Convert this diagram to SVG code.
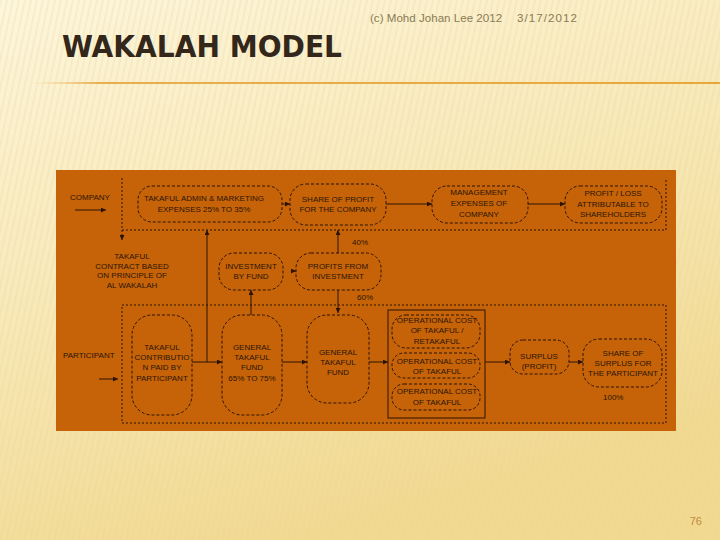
<svg xmlns="http://www.w3.org/2000/svg" width="720" height="540" viewBox="0 0 720 540">
  <defs>
    <linearGradient id="bg" x1="0" y1="0" x2="0.4" y2="1">
      <stop offset="0" stop-color="#FDF6DC"/>
      <stop offset="0.5" stop-color="#F8E9B8"/>
      <stop offset="1" stop-color="#F1D990"/>
    </linearGradient>
    <linearGradient id="rule" x1="0" y1="0" x2="1" y2="0">
      <stop offset="0" stop-color="#F2C878" stop-opacity="0"/>
      <stop offset="0.1" stop-color="#E8AE50"/>
      <stop offset="1" stop-color="#E8A838"/>
    </linearGradient>
    <pattern id="stripes" width="6" height="20" patternUnits="userSpaceOnUse" patternTransform="skewX(-12)">
      <rect x="0" y="0" width="2" height="20" fill="#E8D49A" fill-opacity="0.25"/>
    </pattern>
    <marker id="ah" viewBox="0 0 10 10" refX="10" refY="5" markerWidth="5" markerHeight="5" orient="auto-start-reverse" markerUnits="userSpaceOnUse">
      <path d="M0,0 L10,5 L0,10 Z" fill="#2B1405"/>
    </marker>
    <style>
      .node{fill:none;stroke:#2B1405;stroke-width:1;stroke-dasharray:3 2}
      .box{fill:none;stroke:#2B1405;stroke-width:1}
      .c{fill:none;stroke:#2B1405;stroke-width:1}
      .d{fill:none;stroke:#2B1405;stroke-width:1;stroke-dasharray:2 2}
      .t{font-family:"Liberation Sans", Arial, sans-serif;font-size:8px;fill:#2B1405;text-anchor:middle}
      .tl{font-family:"Liberation Sans", Arial, sans-serif;font-size:8px;fill:#2B1405}
    </style>
  </defs>

  <rect width="720" height="540" fill="url(#bg)"/>
  <rect width="720" height="540" fill="url(#stripes)"/>

  <text x="370" y="22" font-family="'Liberation Sans', Arial, sans-serif" font-size="11.6" fill="#8A7A55">(c) Mohd Johan Lee 2012</text>
  <text x="517" y="22" font-family="'Liberation Sans', Arial, sans-serif" font-size="11.6" fill="#8A7A55" textLength="60">3/17/2012</text>
  <text x="62" y="57" font-family="'DejaVu Sans Condensed', 'DejaVu Sans', sans-serif" font-size="31" font-weight="600" fill="#33261A" textLength="280" lengthAdjust="spacingAndGlyphs">WAKALAH MODEL</text>
  <rect x="30" y="82" width="690" height="2" fill="url(#rule)"/>
  <text x="702" y="525" font-family="'Liberation Sans', Arial, sans-serif" font-size="11" fill="#C08A40" text-anchor="end">76</text>

  <rect x="56" y="170" width="620" height="261" fill="#C66308"/>

  <g id="connectors">
    <path class="d" d="M122,178 V236"/>
    <path class="c" d="M122,236 V240" marker-end="url(#ah)"/>
    <path class="d" d="M122,230 H666 V178"/>
    <path class="d" d="M122,305 H666 V423 H122 Z"/>
    <path class="c" d="M75,210 H106" marker-end="url(#ah)"/>
    <path class="c" d="M99,379 H118" marker-end="url(#ah)"/>
    <path class="c" d="M282,204 H290" marker-end="url(#ah)"/>
    <path class="c" d="M386,204 H432" marker-end="url(#ah)"/>
    <path class="c" d="M528,204 H565" marker-end="url(#ah)"/>
    <path class="c" d="M207,362 V230" marker-end="url(#ah)"/>
    <path class="c" d="M251,315 V290" marker-end="url(#ah)"/>
    <path class="c" d="M292,271 H296" marker-end="url(#ah)"/>
    <path class="c" d="M338,253 V230" marker-end="url(#ah)"/>
    <path class="c" d="M338,290 V313" marker-end="url(#ah)"/>
    <path class="c" d="M192,362 H222" marker-end="url(#ah)"/>
    <path class="c" d="M282,362 H307" marker-end="url(#ah)"/>
    <path class="c" d="M369,362 H388" marker-end="url(#ah)"/>
    <path class="c" d="M485,362 H510" marker-end="url(#ah)"/>
    <path class="c" d="M569,362 H583" marker-end="url(#ah)"/>
  </g>

  <g id="company"><text class="tl" x="70" y="200">COMPANY</text></g>
  <g id="participant"><text class="tl" x="63" y="358">PARTICIPANT</text></g>

  <g id="admin">
    <rect class="node" x="138" y="186" width="144" height="36" rx="14"/>
    <text class="t" x="204" y="201">TAKAFUL ADMIN &amp; MARKETING</text>
    <text class="t" x="204" y="212">EXPENSES 25% TO 35%</text>
  </g>
  <g id="share-profit">
    <rect class="node" x="290" y="184" width="96" height="41" rx="16"/>
    <text class="t" x="338" y="202">SHARE OF PROFIT</text>
    <text class="t" x="338" y="212">FOR THE COMPANY</text>
  </g>
  <g id="management">
    <rect class="node" x="432" y="186" width="96" height="37" rx="15"/>
    <text class="t" x="479" y="195">MANAGEMENT</text>
    <text class="t" x="479" y="206">EXPENSES OF</text>
    <text class="t" x="479" y="217">COMPANY</text>
  </g>
  <g id="profit-loss">
    <rect class="node" x="565" y="186" width="97" height="37" rx="15"/>
    <text class="t" x="613" y="196">PROFIT / LOSS</text>
    <text class="t" x="613" y="207">ATTRIBUTABLE TO</text>
    <text class="t" x="613" y="217">SHAREHOLDERS</text>
  </g>

  <g id="contract">
    <text class="t" x="132" y="259">TAKAFUL</text>
    <text class="t" x="132" y="269">CONTRACT BASED</text>
    <text class="t" x="132" y="278">ON PRINCIPLE OF</text>
    <text class="t" x="132" y="288">AL WAKALAH</text>
  </g>

  <g id="investment">
    <rect class="node" x="219" y="253" width="64" height="37" rx="15"/>
    <text class="t" x="251" y="269">INVESTMENT</text>
    <text class="t" x="251" y="279">BY FUND</text>
  </g>
  <g id="profits-investment">
    <rect class="node" x="296" y="253" width="85" height="37" rx="15"/>
    <text class="t" x="338" y="269">PROFITS FROM</text>
    <text class="t" x="338" y="279">INVESTMENT</text>
  </g>
  <g id="pct40"><text class="tl" x="352" y="245">40%</text></g>
  <g id="pct60"><text class="tl" x="357" y="300">60%</text></g>

  <g id="contribution">
    <rect class="node" x="132" y="315" width="60" height="100" rx="20"/>
    <text class="t" x="162" y="350">TAKAFUL</text>
    <text class="t" x="162" y="360">CONTRIBUTIO</text>
    <text class="t" x="162" y="370">N PAID BY</text>
    <text class="t" x="162" y="381">PARTICIPANT</text>
  </g>
  <g id="general-fund-1">
    <rect class="node" x="222" y="315" width="60" height="100" rx="20"/>
    <text class="t" x="252" y="350">GENERAL</text>
    <text class="t" x="252" y="360">TAKAFUL</text>
    <text class="t" x="252" y="370">FUND</text>
    <text class="t" x="252" y="381">65% TO 75%</text>
  </g>
  <g id="general-fund-2">
    <rect class="node" x="307" y="315" width="62" height="88" rx="20"/>
    <text class="t" x="338" y="355">GENERAL</text>
    <text class="t" x="338" y="365">TAKAFUL</text>
    <text class="t" x="338" y="375">FUND</text>
  </g>

  <g id="operational">
    <rect class="box" x="388" y="310" width="97" height="108"/>
    <rect class="node" x="392" y="315" width="88" height="33" rx="14"/>
    <text class="t" x="437" y="323">OPERATIONAL COST</text>
    <text class="t" x="437" y="333">OF TAKAFUL /</text>
    <text class="t" x="437" y="344">RETAKAFUL</text>
    <rect class="node" x="392" y="353" width="88" height="25" rx="12"/>
    <text class="t" x="437" y="364">OPERATIONAL COST</text>
    <text class="t" x="437" y="374">OF TAKAFUL</text>
    <rect class="node" x="392" y="384" width="88" height="26" rx="12"/>
    <text class="t" x="437" y="394">OPERATIONAL COST</text>
    <text class="t" x="437" y="405">OF TAKAFUL</text>
  </g>

  <g id="surplus">
    <rect class="node" x="510" y="340" width="59" height="34" rx="13"/>
    <text class="t" x="539" y="359">SURPLUS</text>
    <text class="t" x="539" y="369">(PROFIT)</text>
  </g>
  <g id="share-surplus">
    <rect class="node" x="583" y="339" width="79" height="48" rx="16"/>
    <text class="t" x="623" y="356">SHARE OF</text>
    <text class="t" x="623" y="366">SURPLUS FOR</text>
    <text class="t" x="623" y="376">THE PARTICIPANT</text>
  </g>
  <g id="pct100"><text class="tl" x="603" y="400">100%</text></g>
</svg>
